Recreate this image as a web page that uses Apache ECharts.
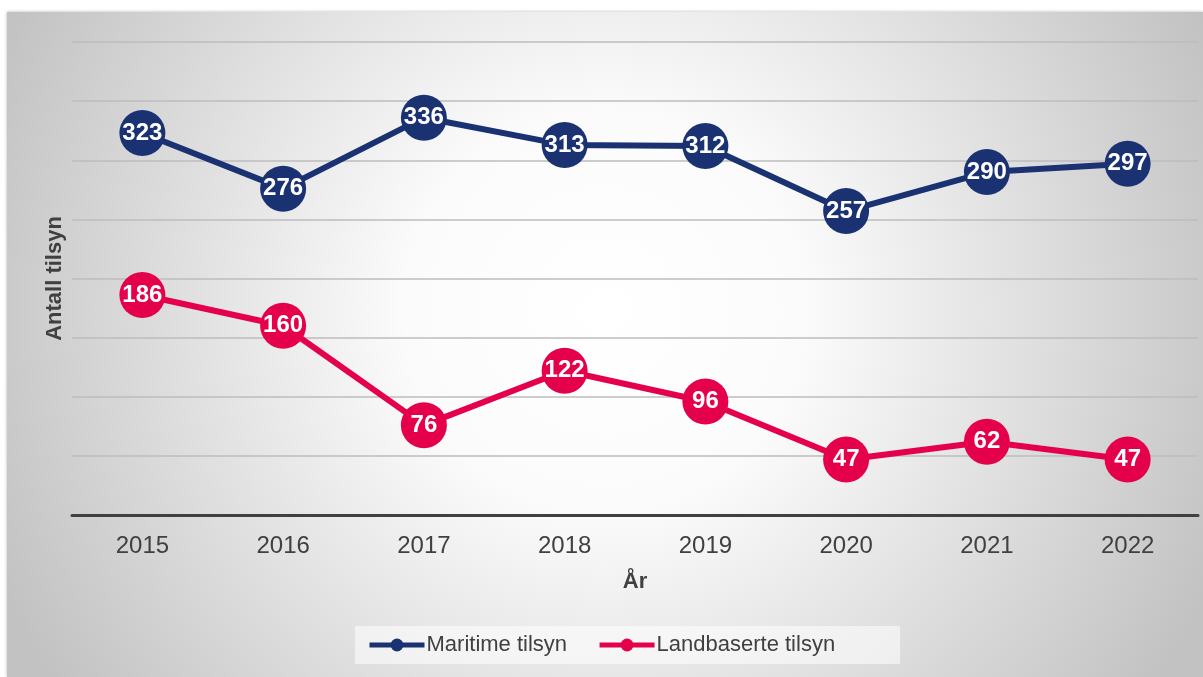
<!DOCTYPE html>
<html>
<head>
<meta charset="utf-8">
<script src="https://cdn.jsdelivr.net/npm/echarts@6/dist/echarts.min.js"></script>
<style>
  html, body { margin: 0; padding: 0; background: #fff; }
  #main { width: 1203px; height: 677px; }
</style>
</head>
<body>
<div id="main"></div>
<script>
// år og verdier
var years = ['2015', '2016', '2017', '2018', '2019', '2020', '2021', '2022'];
var maritime = [323, 276, 336, 313, 312, 257, 290, 297];
var landbaserte = [186, 160, 76, 122, 96, 47, 62, 47];

var chart = echarts.init(document.getElementById('main'));

var navy = '#1b3272';
var red = '#e5004b';

function lineSeries(name, data, color) {
  return {
    name: name,
    type: 'line',
    data: data,
    symbol: 'circle',
    symbolSize: 46,
    lineStyle: { color: color, width: 6 },
    itemStyle: { color: color },
    label: {
      show: true,
      position: 'inside',
      color: '#fff',
      fontWeight: 'bold',
      fontSize: 24,
      fontFamily: 'Liberation Sans'
    },
    emphasis: { disabled: true }
  };
}

var option = {
  animation: false,
  textStyle: { fontFamily: 'Liberation Sans' },
  graphic: [{
    type: 'rect',
    z: -10,
    shape: { x: 7, y: 12, width: 1196, height: 665 },
    style: {
      fill: {
        type: 'radial', x: 0.5, y: 0.45, r: 1.0,
        colorStops: [
          { offset: 0, color: '#ffffff' },
          { offset: 0.3, color: '#fbfbfb' },
          { offset: 1, color: '#c2c2c2' }
        ]
      },
      shadowBlur: 3,
      shadowColor: 'rgba(0,0,0,0.3)'
    }
  }],
  legend: {
    top: 626,
    left: 355,
    itemWidth: 55,
    itemHeight: 16,
    itemGap: 30,
    padding: [8, 65, 8, 12],
    backgroundColor: 'rgba(255,255,255,0.55)',
    lineStyle: { width: 5 },
    textStyle: { fontSize: 22, color: '#404040', padding: [0, 0, 0, -3] },
    data: ['Maritime tilsyn', 'Landbaserte tilsyn']
  },
  grid: { left: 72, right: 5, top: 42, bottom: 162 },
  xAxis: {
    type: 'category',
    data: years,
    name: 'År',
    nameLocation: 'middle',
    nameGap: 56,
    nameTextStyle: { fontSize: 22, fontWeight: 'bold', color: '#404040' },
    axisLine: { lineStyle: { color: '#404040', width: 3 } },
    axisTick: { show: false },
    axisLabel: { fontSize: 24, color: '#404040', margin: 19 }
  },
  yAxis: {
    type: 'value',
    min: 0,
    max: 400,
    interval: 50,
    name: 'Antall tilsyn',
    nameLocation: 'middle',
    nameGap: 6,
    nameTextStyle: { fontSize: 22, fontWeight: 'bold', color: '#404040' },
    axisLabel: { show: false },
    axisLine: { show: false },
    axisTick: { show: false },
    splitLine: { lineStyle: { color: '#bdbdbd', width: 1.5 } }
  },
  series: [
    lineSeries('Maritime tilsyn', maritime, navy),
    lineSeries('Landbaserte tilsyn', landbaserte, red)
  ]
};

chart.setOption(option);
</script>
</body>
</html>
